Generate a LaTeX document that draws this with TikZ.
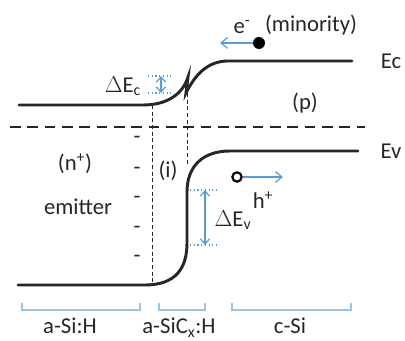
\documentclass[tikz,border=0pt]{standalone}
\usepackage{fontspec}
\setmainfont{Carlito}
\usepackage{tikz}
\usetikzlibrary{arrows.meta,calc,positioning}
\definecolor{Ink}{HTML}{262626}
\definecolor{Steel}{HTML}{5B9BD5}
\definecolor{Frame}{HTML}{9DC3E6}

\begin{document}
\begin{tikzpicture}[x=0.75pt,y=-0.75pt,
  every node/.style={font=\fontsize{17}{20}\selectfont,text=Ink,inner sep=0pt},
  band/.style={line width=2.2pt,line cap=round,Ink},
  guide/.style={densely dashed,line width=0.6pt,Ink},
  marker/.style={dotted,line width=0.8pt,Steel},
  carrier/.style={-{Straight Barb[length=5pt,width=8pt]},line width=0.9pt,Steel},
  span/.style={line width=1pt,Frame}]
  \useasboundingbox (0,0) rectangle (405,341);
  % conduction band with spike
  \draw[band] (19,105) -- (143,105) .. controls (165,105) and (182,96) .. (188,77)
    -- (186,93) .. controls (193,79) and (205,61) .. (228,61) -- (352,61);
  % valence band
  \draw[band] (18,285) -- (145,285) .. controls (176,285) and (187,268) .. (187,243)
    -- (187,192) .. controls (187,166) and (203,151) .. (230,151) -- (358,151);
  % Fermi level
  \draw[line width=2.2pt,Ink,dash pattern=on 8pt off 5pt] (10,127) -- (365,127);
  % interfaces
  \draw[guide] (152,105) -- (152,283);
  \draw[guide] (187,93) -- (187,165);
  % band labels
  \node (ec) at (391,61) {Ec};
  \node (ev) at (391,151) {Ev};
  % region labels
  \node (np) at (75,164) {(n\textsuperscript{+})};
  \node (emit) at (78,207) {emitter};
  \node (ilay) at (168,171) {(i)};
  \node (pl) at (305,103) {(p)};
  % fixed charges
  \foreach \y in {140,171,200,230,259}
    \node at (137,\y) {-};
  % offsets
  \draw[marker] (148,76) -- (173,76);
  \draw[marker] (148,93) -- (173,93);
  \coordinate (ct) at (161,76);
  \coordinate (cb) at (161,93);
  \draw[{Straight Barb[length=4pt,width=7pt]}-{Straight Barb[length=4pt,width=7pt]},line width=0.9pt,Steel] (ct) -- (cb);
  \node (dec) at (123,86) {$\Delta$E\textsubscript{c}};
  \draw[marker] (190,190) -- (217,190);
  \draw[marker] (190,245) -- (217,245);
  \coordinate (vt) at (205,190);
  \coordinate (vb) at (205,245);
  \draw[{Straight Barb[length=4pt,width=7pt]}-{Straight Barb[length=4pt,width=7pt]},line width=0.9pt,Steel] (vt) -- (vb);
  \node (dev) at (233,220) {$\Delta$E\textsubscript{v}};
  % carriers
  \node[circle,fill=black,minimum size=9pt] (el) at (259,43) {};
  \coordinate (elend) at (220,43);
  \draw[carrier] (el.west) -- (elend);
  \node (elab) at (242,27) {e\textsuperscript{-}};
  \node (minor) at (311,25) {(minority)};
  \node[circle,draw=black,line width=1.6pt,minimum size=7pt] (ho) at (237,177) {};
  \coordinate (hoend) at (283,177);
  \draw[carrier] (ho.east) -- (hoend);
  \node (hlab) at (263,200) {h\textsuperscript{+}};
  % layers
  \draw[span] (22,303) |- (140,310) -- (140,303);
  \draw[span] (159,303) |- (205,310) -- (205,303);
  \draw[span] (232,303) |- (351,310) -- (351,303);
  \node[anchor=base] (asi) at (70,334) {a-Si:H};
  \node[anchor=base] (asic) at (179,334) {a-SiC\textsubscript{x}:H};
  \node[anchor=base] (csi) at (290,334) {c-Si};
\end{tikzpicture}
\end{document}
